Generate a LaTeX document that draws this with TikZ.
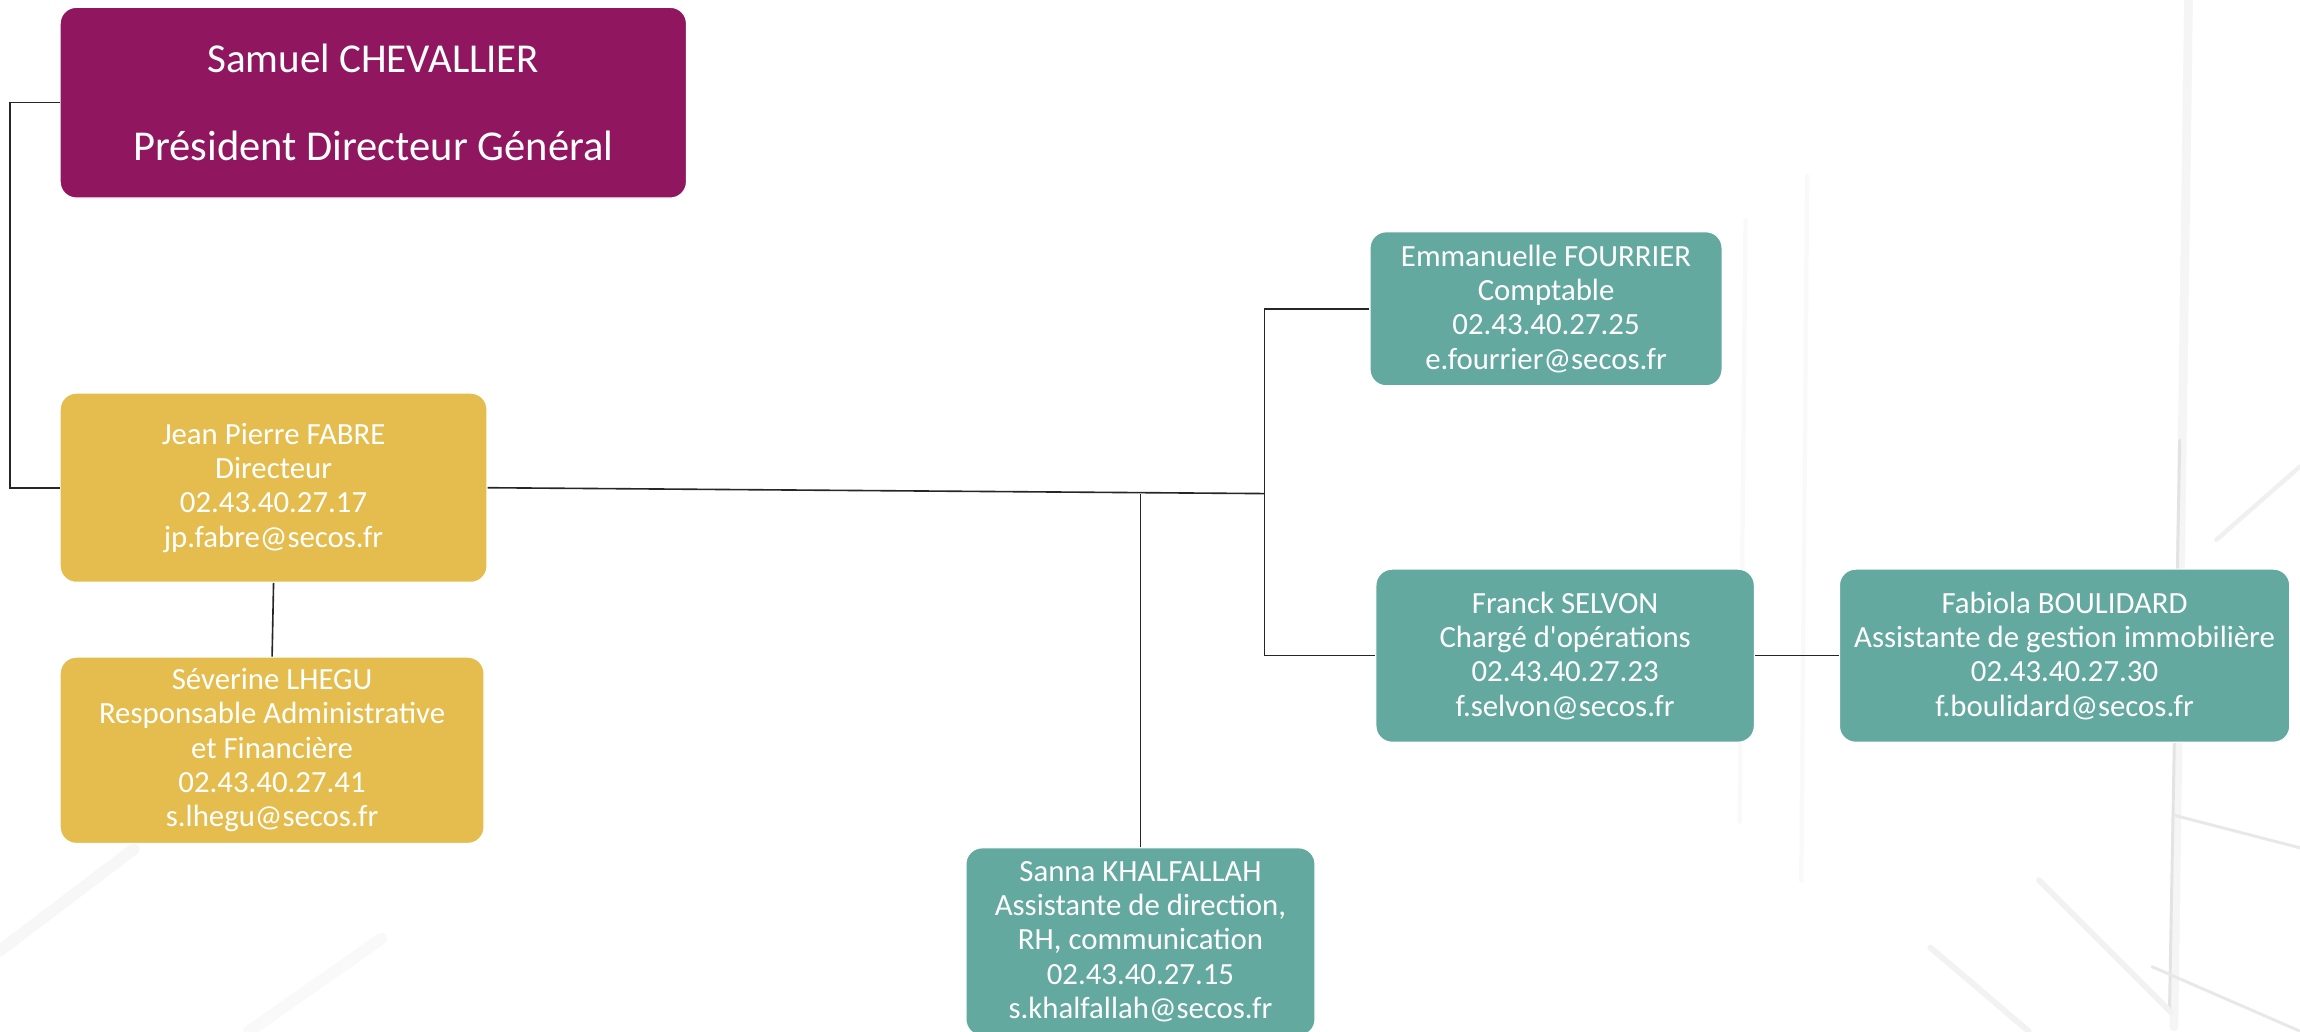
\documentclass[tikz,border=0pt]{standalone}
\usepackage{fontspec}
\setmainfont{Carlito}[Ligatures=TeXOff]
\definecolor{pdgpurple}{RGB}{144,22,96}
\definecolor{diryellow}{RGB}{228,189,78}
\definecolor{staffteal}{RGB}{100,169,160}
\begin{document}
\begin{tikzpicture}[x=1pt,y=-1pt,
  box/.style={rectangle, rounded corners=11pt, draw=white, line width=0.8pt,
    text=white, align=center, inner sep=0pt,
    font=\fontsize{21}{23.4}\selectfont},
  purplebox/.style={box, fill=pdgpurple, font=\fontsize{29}{60}\selectfont},
  yellowbox/.style={box, fill=diryellow},
  tealbox/.style={box, fill=staffteal},
  link/.style={draw=black!85, line width=1.1pt},
  bgline/.style={line cap=round}
]
\useasboundingbox (0,0) rectangle (1568,703);
\clip (0,0) rectangle (1568,703);
\fill[white] (0,0) rectangle (1568,703);

% faint background strokes
\draw[bgline, gray!8, line width=6pt] (1492,0) -- (1482,700);
\draw[bgline, gray!22, line width=2pt] (1486,300) -- (1479,690);
\draw[bgline, gray!12, line width=3pt] (1511,368) -- (1568,318);
\draw[bgline, gray!18, line width=2pt] (1483,556) -- (1568,578);
\draw[bgline, gray!18, line width=2pt] (1467,659) -- (1568,703);
\draw[bgline, gray!10, line width=4pt] (1316,646) -- (1383,703);
\draw[bgline, gray!10, line width=4pt] (1390,600) -- (1480,690);
\draw[bgline, gray!6, line width=8pt] (0,648) -- (91,579);
\draw[bgline, gray!5, line width=8pt] (170,703) -- (260,640);
\draw[bgline, gray!5, line width=3pt] (1190,150) -- (1186,560);
\draw[bgline, gray!5, line width=3pt] (1232,120) -- (1228,600);

% nodes
\node[purplebox, minimum width=427pt, minimum height=130pt] (pdg) at (254.5,70)
  {{\fontsize{28}{60}\selectfont Samuel CHEVALLIER}\\Président Directeur Général};

\node[yellowbox, minimum width=291pt, minimum height=129pt] (fabre) at (186.5,332.5)
  {Jean Pierre FABRE\\Directeur\\02.43.40.27.17\\jp.fabre@secos.fr};

\node[yellowbox, minimum width=289pt, minimum height=127pt] (lhegu) at (185.5,511.5)
  {Séverine LHEGU\\Responsable Administrative\\et Financière\\02.43.40.27.41\\s.lhegu@secos.fr};

\node[tealbox, minimum width=240pt, minimum height=105pt] (fourrier) at (1054,210.5)
  {Emmanuelle FOURRIER\\Comptable\\02.43.40.27.25\\e.fourrier@secos.fr};

\node[tealbox, minimum width=258pt, minimum height=118pt] (selvon) at (1067,447)
  {Franck SELVON\\Chargé d'opérations\\02.43.40.27.23\\f.selvon@secos.fr};

\node[tealbox, minimum width=307pt, minimum height=118pt] (boulidard) at (1407.5,447)
  {Fabiola BOULIDARD\\Assistante de gestion immobilière\\02.43.40.27.30\\f.boulidard@secos.fr};

\node[tealbox, minimum width=238pt, minimum height=128pt] (khalfallah) at (777.5,642)
  {Sanna KHALFALLAH\\Assistante de direction,\\RH, communication\\02.43.40.27.15\\s.khalfallah@secos.fr};

% connectors
\coordinate (lft) at (7,70);
\coordinate (hub) at (862,336.5);
\draw[link] (pdg.west) -- (lft) |- (fabre.west);
\draw[link] (fabre.south) -- (lhegu.north);
\draw[link] (fabre.east) -- (hub);
\draw[link] (fourrier.west) -| (hub) |- (selvon.west);
\draw[link] (khalfallah.north) -- (khalfallah.north |- hub);
\draw[link] (selvon.east) -- (boulidard.west);
\end{tikzpicture}
\end{document}
